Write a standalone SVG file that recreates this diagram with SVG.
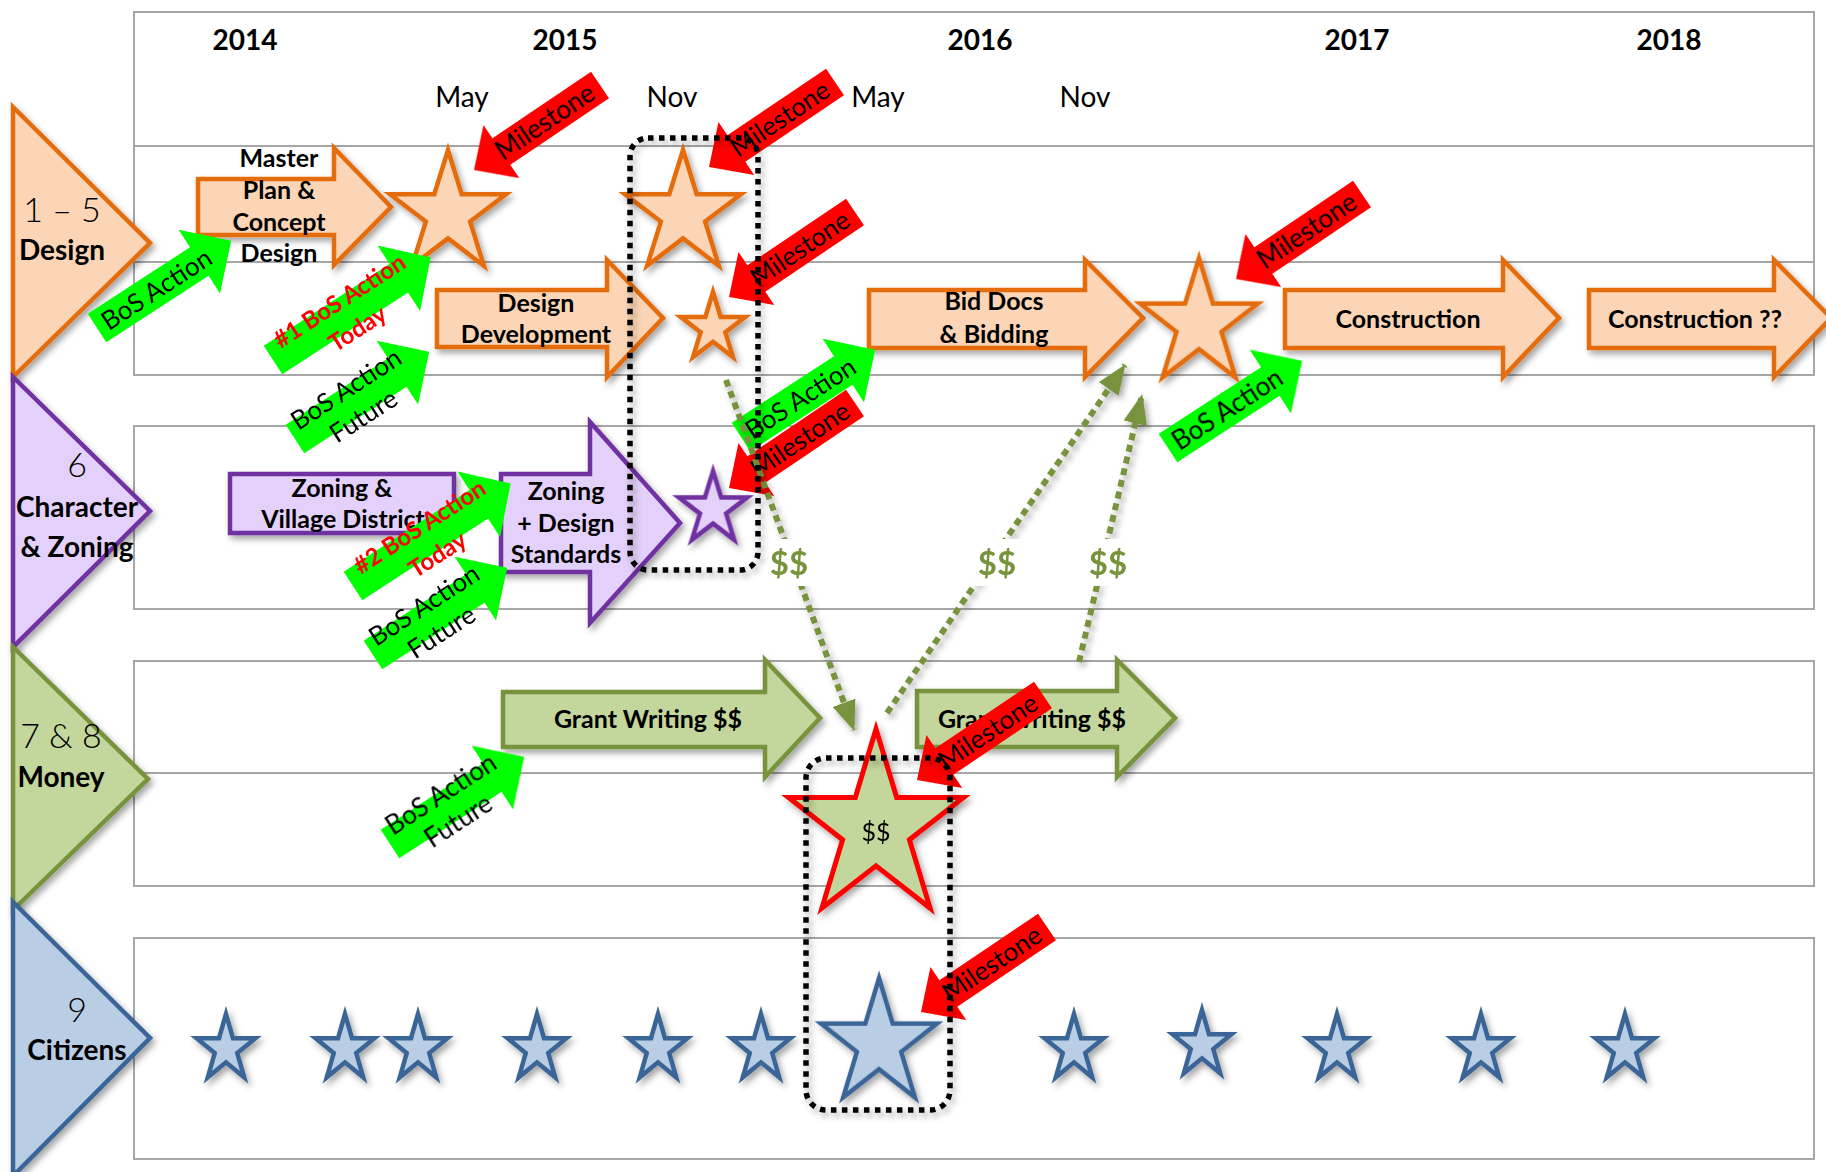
<svg xmlns="http://www.w3.org/2000/svg" width="1826" height="1172" viewBox="0 0 1826 1172">
<style>
text{font-family:Lato,'Liberation Sans',sans-serif;fill:#000}
.grid{fill:none;stroke:#a6a6a6;stroke-width:2}
.yr{font-size:28px;font-weight:700;text-anchor:middle}
.mo{font-size:28px;text-anchor:middle}
.num{font-size:34px;font-weight:300;text-anchor:middle}
.cat{font-size:28px;font-weight:700;text-anchor:middle}
.or{fill:#fbd5b5;stroke:#e46c0a;stroke-width:4.5}
.pu{fill:#e4d1fb;stroke:#7030a0;stroke-width:4.5}
.gr{fill:#c3d69b;stroke:#77933c;stroke-width:4.5}
.bl{fill:#b9cde5;stroke:#3b6597;stroke-width:4.5}
.ms{fill:#c3d69b;stroke:#ff0000;stroke-width:5}
.lbl{font-size:25px;font-weight:700;text-anchor:middle}
.red{fill:#ff0000}
.bos{fill:#00ff00}
.mt{font-size:26px;text-anchor:middle}
.bt{font-size:26px;text-anchor:middle}
.rt{font-size:24px;font-weight:700;text-anchor:middle;fill:#ff0000}
.dash{fill:none;stroke:#77933c;stroke-width:6;stroke-dasharray:7 5}
.dl{font-size:33px;font-weight:700;text-anchor:middle;fill:#77933c}
.dot{fill:none;stroke:#000;stroke-width:5.5;stroke-dasharray:5.5 5.5}
.sh{filter:url(#sh)}
</style>
<defs>
<filter id="sh" x="-20%" y="-20%" width="150%" height="150%"><feDropShadow dx="3" dy="4" stdDeviation="3" flood-color="#000" flood-opacity="0.35"/></filter>
<path id="star" vector-effect="non-scaling-stroke" d="M0,-100 L22.45,-30.9 L95.1,-30.9 L36.3,11.8 L58.8,80.9 L0,38.2 L-58.8,80.9 L-36.3,11.8 L-95.1,-30.9 L-22.45,-30.9 Z"/>
<polygon id="msA" points="0,0 33,-32 33,-16 152,-16 152,16 33,16 33,32"/>
<polygon id="bosA" points="0,-17 122,-17 122,-38 160,0 122,38 122,17 0,17"/>
<polygon id="bosL" points="0,-17 150,-17 150,-39 188,0 150,39 150,17 0,17"/>
<marker id="ah" markerUnits="userSpaceOnUse" markerWidth="30" markerHeight="24" refX="29" refY="12" orient="auto"><path d="M0,0 L30,12 L0,24 Z" fill="#77933c"/></marker>
</defs>

<g id="table">
<rect class="grid" x="134" y="12" width="1680" height="363"/>
<line class="grid" x1="134" y1="146" x2="1814" y2="146"/>
<line class="grid" x1="134" y1="262" x2="1814" y2="262"/>
<rect class="grid" x="134" y="426" width="1680" height="183"/>
<rect class="grid" x="134" y="661" width="1680" height="225"/>
<line class="grid" x1="134" y1="773" x2="1814" y2="773"/>
<rect class="grid" x="134" y="938" width="1680" height="221"/>
</g>

<g id="header">
<text class="yr" x="245" y="50">2014</text>
<text class="yr" x="565" y="50">2015</text>
<text class="yr" x="980" y="50">2016</text>
<text class="yr" x="1357" y="50">2017</text>
<text class="yr" x="1669" y="50">2018</text>
<text class="mo" x="462" y="107">May</text>
<text class="mo" x="672" y="107">Nov</text>
<text class="mo" x="878" y="107">May</text>
<text class="mo" x="1085" y="107">Nov</text>
</g>

<g id="cat-design"><polygon class="or sh" points="13,107 150,243 13,377"/><text class="num" x="62" y="222">1 – 5</text><text class="cat" x="62" y="260">Design</text></g>
<g id="cat-character"><polygon class="pu sh" points="13,377 150,511 13,647"/><text class="num" x="77" y="477">6</text><text class="cat" x="77" y="517">Character</text><text class="cat" x="77" y="557">&amp; Zoning</text></g>
<g id="cat-money"><polygon class="gr sh" points="13,647 148,779 13,910"/><text class="num" x="61" y="748">7 &amp; 8</text><text class="cat" x="61" y="787">Money</text></g>
<g id="cat-citizens"><polygon class="bl sh" points="13,902 150,1038 13,1176"/><text class="num" x="77" y="1022">9</text><text class="cat" x="77" y="1060">Citizens</text></g>

<g id="n-master-plan"><polygon class="or sh" points="198,179 334,179 334,148 391,207 334,265 334,235 198,235"/><text class="lbl" x="279" y="167">Master</text><text class="lbl" x="279" y="199">Plan &amp;</text><text class="lbl" x="279" y="231">Concept</text><text class="lbl" x="279" y="262">Design</text></g>
<g id="n-design-dev"><polygon class="or sh" points="437,290 607,290 607,260 663,318 607,377 607,347 437,347"/><text class="lbl" x="536" y="312">Design</text><text class="lbl" x="536" y="343">Development</text></g>
<g id="n-bid-docs"><polygon class="or sh" points="869,290 1085,290 1085,260 1143,318 1085,377 1085,348 869,348"/><text class="lbl" x="994" y="310">Bid Docs</text><text class="lbl" x="994" y="343">&amp; Bidding</text></g>
<g id="n-construction"><polygon class="or sh" points="1285,290 1503,290 1503,260 1559,318 1503,377 1503,348 1285,348"/><text class="lbl" x="1408" y="328">Construction</text></g>
<g id="n-construction2"><polygon class="or sh" points="1589,290 1774,290 1774,260 1831,318 1774,377 1774,348 1589,348"/><text class="lbl" x="1695" y="328">Construction ??</text></g>
<g id="n-zoning-village"><rect class="pu sh" x="230" y="474" width="224" height="59"/><text class="lbl" x="342" y="497">Zoning &amp;</text><text class="lbl" x="343" y="528">Village District</text></g>
<g id="n-zoning-standards"><polygon class="pu sh" points="501,474 590,474 590,422 680,523 590,623 590,572 501,572"/><text class="lbl" x="566" y="500">Zoning</text><text class="lbl" x="566" y="532">+ Design</text><text class="lbl" x="566" y="563">Standards</text></g>
<g id="n-grant1"><polygon class="gr sh" points="503,692 765,692 765,660 820,718 765,777 765,747 503,747"/><text class="lbl" x="648" y="728">Grant Writing $$</text></g>
<g id="n-grant2"><polygon class="gr sh" points="917,691 1117,691 1117,660 1175,718 1117,777 1117,747 917,747"/><text class="lbl" x="1032" y="728">Grant Writing $$</text></g>

<g id="stars" class="sh">
<use id="star-may" href="#star" class="or" transform="translate(448,214) scale(0.61,0.64)"/>
<use id="star-nov" href="#star" class="or" transform="translate(683,214) scale(0.61,0.64)"/>
<use id="star-dd" href="#star" class="or" transform="translate(713,328) scale(0.34,0.36)"/>
<use id="star-bid" href="#star" class="or" transform="translate(1199,324) scale(0.62,0.66)"/>
<use id="star-zoning" href="#star" class="pu" transform="translate(713,509) scale(0.36,0.38)"/>
<use id="star-citizens-big" href="#star" class="bl" transform="translate(879,1044) scale(0.61,0.66)"/>
<use href="#star" class="bl" transform="translate(226,1049) scale(0.31,0.35)"/>
<use href="#star" class="bl" transform="translate(345,1049) scale(0.31,0.35)"/>
<use href="#star" class="bl" transform="translate(418,1049) scale(0.31,0.35)"/>
<use href="#star" class="bl" transform="translate(537,1049) scale(0.31,0.35)"/>
<use href="#star" class="bl" transform="translate(658,1049) scale(0.31,0.35)"/>
<use href="#star" class="bl" transform="translate(761,1049) scale(0.31,0.35)"/>
<use href="#star" class="bl" transform="translate(1074,1049) scale(0.31,0.35)"/>
<use href="#star" class="bl" transform="translate(1202,1045) scale(0.31,0.35)"/>
<use href="#star" class="bl" transform="translate(1337,1049) scale(0.31,0.35)"/>
<use href="#star" class="bl" transform="translate(1481,1049) scale(0.31,0.35)"/>
<use href="#star" class="bl" transform="translate(1625,1049) scale(0.31,0.35)"/>
</g>

<g id="ms1" transform="translate(474,170) rotate(-34)"><use href="#msA" class="red"/><text class="mt" x="86" y="9">Milestone</text></g>
<g id="ms2" transform="translate(709,167) rotate(-34)"><use href="#msA" class="red"/><text class="mt" x="86" y="9">Milestone</text></g>
<g id="ms3" transform="translate(729,297) rotate(-34)"><use href="#msA" class="red"/><text class="mt" x="86" y="9">Milestone</text></g>
<g id="ms4" transform="translate(1236,279) rotate(-34)"><use href="#msA" class="red"/><text class="mt" x="86" y="9">Milestone</text></g>
<g id="ms5" transform="translate(729,488) rotate(-34)"><use href="#msA" class="red"/><text class="mt" x="86" y="9">Milestone</text></g>

<g id="bos1" transform="translate(97,328) rotate(-33)"><use href="#bosA" class="bos"/><text class="bt" x="71" y="9">BoS Action</text></g>
<g id="bos2" transform="translate(273,360) rotate(-33)"><use href="#bosL" class="bos"/><text class="rt" x="88" y="-5">#1 BoS Action</text><text class="rt" x="88" y="28">Today</text></g>
<g id="bos3" transform="translate(295,439) rotate(-33)"><use href="#bosA" class="bos"/><text class="bt" x="70" y="-5">BoS Action</text><text class="bt" x="70" y="27">Future</text></g>
<g id="bos4" transform="translate(741,437) rotate(-33)"><use href="#bosA" class="bos"/><text class="bt" x="71" y="9">BoS Action</text></g>
<g id="bos5" transform="translate(1168,448) rotate(-33)"><use href="#bosA" class="bos"/><text class="bt" x="71" y="9">BoS Action</text></g>
<g id="bos6" transform="translate(353,586) rotate(-33)"><use href="#bosL" class="bos"/><text class="rt" x="88" y="-5">#2 BoS Action</text><text class="rt" x="88" y="28">Today</text></g>
<g id="bos7" transform="translate(373,655) rotate(-33)"><use href="#bosA" class="bos"/><text class="bt" x="70" y="-5">BoS Action</text><text class="bt" x="70" y="27">Future</text></g>
<g id="bos8" transform="translate(390,844) rotate(-33)"><use href="#bosA" class="bos"/><text class="bt" x="70" y="-5">BoS Action</text><text class="bt" x="70" y="27">Future</text></g>

<g id="star-money" class="sh"><use href="#star" class="ms" transform="translate(876,828) scale(0.92,0.99)"/><text x="876" y="841" style="font-size:25px;text-anchor:middle">$$</text></g>
<g id="ms6" transform="translate(917,780) rotate(-34)"><use href="#msA" class="red"/><text class="mt" x="86" y="9">Milestone</text></g>
<g id="ms7" transform="translate(921,1012) rotate(-34)"><use href="#msA" class="red"/><text class="mt" x="86" y="9">Milestone</text></g>

<g id="connectors">
<path class="dash sh" d="M726,380 L854,730" marker-end="url(#ah)"/>
<path class="dash sh" d="M887,713 L1125,365" marker-end="url(#ah)"/>
<path class="dash sh" d="M1079,662 L1142,395" marker-end="url(#ah)"/>
<rect x="764" y="539" width="50" height="47" fill="#fff"/>
<rect x="972" y="539" width="50" height="47" fill="#fff"/>
<rect x="1083" y="539" width="50" height="47" fill="#fff"/>
<text class="dl" x="789" y="575">$$</text>
<text class="dl" x="997" y="575">$$</text>
<text class="dl" x="1108" y="575">$$</text>
</g>

<g id="focus-boxes" class="sh">
<rect class="dot" x="630" y="138" width="128" height="432" rx="18"/>
<rect class="dot" x="806" y="758" width="144" height="352" rx="20"/>
</g>
</svg>
